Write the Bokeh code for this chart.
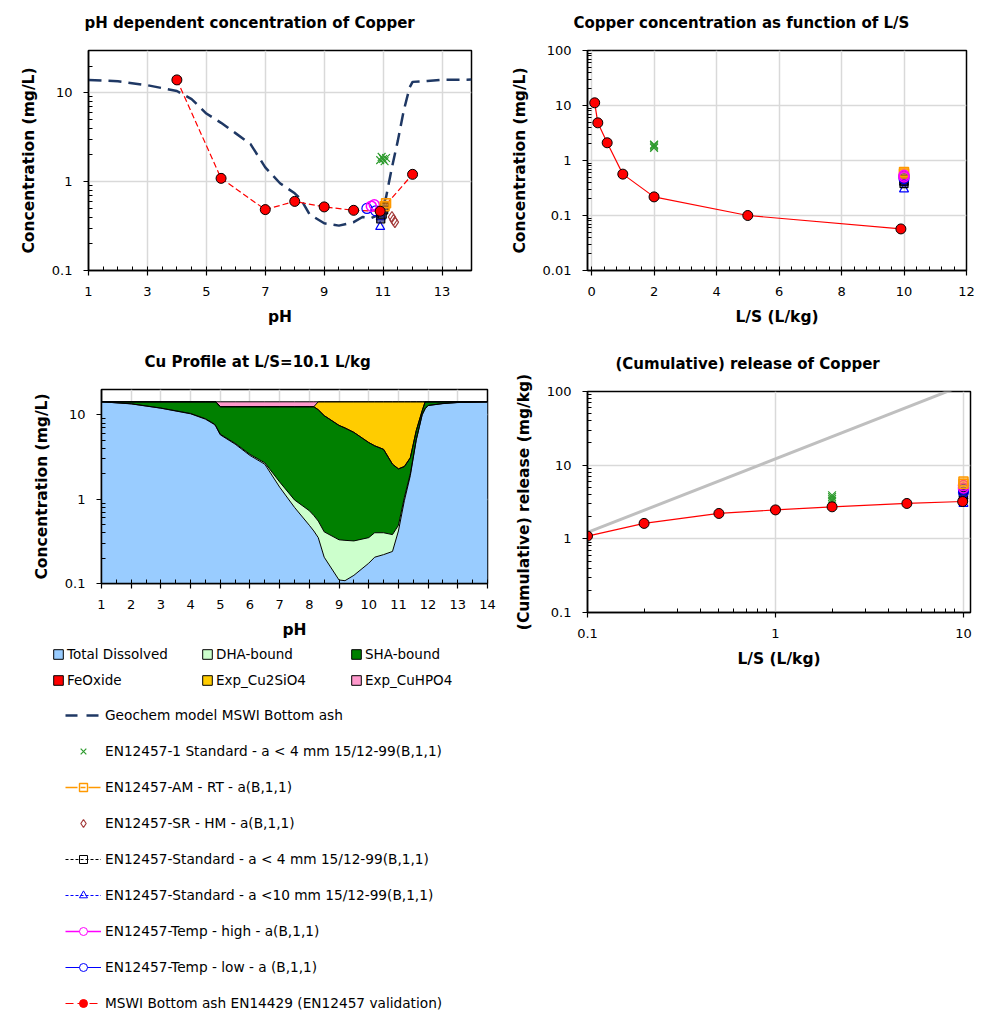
import numpy as np
from bokeh.plotting import figure
from bokeh.models import FixedTicker, CustomJSTickFormatter, Legend, LegendItem, Range1d
from bokeh.embed import file_html
from bokeh.resources import INLINE

FONT = "DejaVu Sans"

# ---------------- data ----------------
# Geochemical model (pH dependence)
geochem_ph = [1, 2, 3, 4, 4.5, 4.8, 5, 5.5, 6, 6.5, 7, 7.5, 8, 8.2, 8.5, 9, 9.5, 10,
              10.3, 10.6, 10.9, 11.1, 11.3, 11.5, 11.7, 11.9, 12, 12.5, 13, 14]
geochem_conc = [14.0, 13.5, 12.2, 10.5, 8.5, 6.8, 5.85, 4.6, 3.5, 2.65, 1.45, 0.96, 0.74, 0.64,
                0.43, 0.34, 0.32, 0.35, 0.40, 0.39, 0.43, 0.67, 1.45, 2.9, 6.3, 11.5, 13.3, 13.6, 14.0, 14.1]

# MSWI bottom ash EN14429 (EN12457 validation)
mswi_ph = [4, 5.5, 7, 8, 9, 10, 10.9, 12]
mswi_ph_conc = [14.0, 1.09, 0.485, 0.60, 0.52, 0.476, 0.465, 1.21]
mswi_ls = [0.1, 0.2, 0.5, 1, 2, 5, 9.9]
mswi_ls_conc = [11.2, 4.84, 2.1, 0.565, 0.218, 0.10, 0.057]
mswi_cum = [1.09, 1.62, 2.21, 2.47, 2.72, 3.02, 3.21]

# EN12457-1 Standard - a < 4 mm
std1_ph = [10.9, 10.95, 11.0, 11.05, 11.1]
std1_ph_conc = [1.75, 1.9, 1.8, 1.7, 1.85]
std1_ls = [2, 2, 2, 2]
std1_ls_conc = [1.7, 1.8, 1.9, 1.95]
std1_cum = [3.3, 3.5, 3.7, 3.9]

# EN12457-AM - RT
amrt_ph = [11.05, 11.1]
amrt_ph_conc = [0.53, 0.57]
amrt_ls = [10, 10]
amrt_ls_conc = [0.58, 0.62]
amrt_cum = [5.6, 6.0]

# EN12457-SR - HM
srhm_ph = [11.3, 11.35, 11.4]
srhm_ph_conc = [0.40, 0.37, 0.35]

# EN12457-Standard - a < 4 mm
std4_ph = [10.92, 10.97, 11.02, 11.05]
std4_ph_conc = [0.38, 0.43, 0.48, 0.52]
std4_ls = [10, 10, 10]
std4_ls_conc = [0.38, 0.42, 0.46]
std4_cum = [3.6, 3.9, 4.2]

# EN12457-Standard - a < 10 mm
std10_ph = [10.9, 10.92]
std10_ph_conc = [0.31, 0.40]
std10_ls = [10, 10]
std10_ls_conc = [0.30, 0.40]
std10_cum = [3.0, 3.8]

# EN12457-Temp - high
thigh_ph = [10.6, 10.7]
thigh_ph_conc = [0.53, 0.55]
thigh_ls = [10, 10]
thigh_ls_conc = [0.50, 0.54]
thigh_cum = [4.9, 5.3]

# EN12457-Temp - low
tlow_ph = [10.45, 10.75]
tlow_ph_conc = [0.50, 0.47]
tlow_ls = [10, 10]
tlow_ls_conc = [0.47, 0.52]
tlow_cum = [4.3, 4.7]

# Maximum (availability) line in cumulative release
maxline_ls = [0.1, 10]
maxline_rel = [1.22, 122]

# Cu profile at L/S=10.1 (species, mg/L)
prof_ph = [1, 2, 3, 4, 4.5, 4.8, 4.85, 5, 5.5, 6, 6.5, 7, 7.5, 8, 8.15, 8.3, 8.5, 9, 9.2, 9.5,
           10, 10.2, 10.5, 10.8, 11, 11.2, 11.4, 11.6, 11.8, 11.9, 12, 12.5, 13, 14]
prof_dissolved = [14.3, 13.5, 12.0, 10.3, 8.9, 7.7, 7.3, 5.8, 4.5, 3.3, 2.6, 1.39, 0.80, 0.49, 0.42,
                  0.35, 0.205, 0.11, 0.108, 0.125, 0.174, 0.205, 0.22, 0.24, 0.42, 0.96, 1.9, 5.0,
                  10.0, 11.8, 12.9, 13.6, 14.0, 14.3]
prof_dha = [0, 0.05, 0.05, 0.1, 0.1, 0.1, 0.1, 0.1, 0.1, 0.1, 0.1, 0.21, 0.18, 0.24, 0.22, 0.20,
            0.205, 0.22, 0.217, 0.195, 0.176, 0.195, 0.18, 0.14, 0.07, 0.09, 0.1, 0.1, 0.1, 0.1,
            0.05, 0.05, 0.05, 0]
prof_sha = [0, 0.75, 2.25, 3.9, 5.3, 6.5, 6.9, 6.6, 7.9, 9.1, 9.8, 10.9, 11.52, 11.77, 11.86, 10.95,
            9.39, 7.17, 6.675, 5.88, 4.35, 3.9, 3.5, 2.22, 1.8, 1.39, 1.1, 1.4, 1.1, 2.4, 1.35, 0.65,
            0.25, 0]
prof_feox = [0] * 34
prof_cu2sio4 = [0, 0, 0, 0, 0, 0, 0, 0, 0, 0, 0, 0, 0, 0, 0, 2.8, 4.5, 6.8, 7.3, 8.1, 9.6, 10.0,
                10.4, 11.7, 12.01, 11.86, 11.2, 7.8, 3.1, 0, 0, 0, 0, 0]
prof_cuhpo4 = [0, 0, 0, 0, 0, 0, 0, 1.8, 1.8, 1.8, 1.8, 1.8, 1.8, 1.8, 1.8, 0, 0, 0, 0, 0, 0, 0,
               0, 0, 0, 0, 0, 0, 0, 0, 0, 0, 0, 0]

# ---------------- styles ----------------
C_GEO = "#1f3864"
C_GREEN = "#2e9b2e"
C_ORANGE = "#ff9900"
C_BROWN = "#a33a3a"
C_BLUE = "#0000ff"
C_MAG = "#ff00ff"

fmt = CustomJSTickFormatter(code="return String(Number(tick.toPrecision(6)));")


def log_minor(e0, e1):
    return [m * 10.0 ** e for e in range(e0, e1) for m in range(2, 10)]


def place(left, top):
    return {"position": "absolute", "left": f"{left}px", "top": f"{top}px"}


def make_fig(pos, width, height, xr, yr, xtype, ytype, bl, br, bt, bb, title, toff, xlabel, ylabel,
             xticks, xminor, yticks, yminor):
    p = figure(width=width, height=height, x_range=Range1d(*xr), y_range=Range1d(*yr),
               x_axis_type=xtype, y_axis_type=ytype, output_backend="svg",
               toolbar_location=None, min_border_left=bl, min_border_right=br,
               min_border_top=bt, min_border_bottom=bb, title=title, styles=place(*pos))
    p.title.align = "left"
    p.title.vertical_align = "top"
    p.title.offset = toff
    p.title.text_font = FONT
    p.title.text_font_size = "15px"
    p.title.text_font_style = "bold"
    p.title.text_color = "black"
    p.title.standoff = 34
    p.xaxis.axis_label = xlabel
    p.yaxis.axis_label = ylabel
    xt = FixedTicker(ticks=xticks, minor_ticks=xminor)
    yt = FixedTicker(ticks=yticks, minor_ticks=yminor)
    p.xaxis.ticker = xt
    p.xgrid.ticker = xt
    p.yaxis.ticker = yt
    p.ygrid.ticker = yt
    for ax in p.axis:
        ax.formatter = fmt
        ax.axis_line_color = "black"
        ax.axis_line_width = 1.5
        ax.major_tick_line_color = "black"
        ax.major_tick_line_width = 1.2
        ax.major_tick_in = 0
        ax.major_tick_out = 5
        ax.minor_tick_line_color = "black"
        ax.minor_tick_line_width = 1
        ax.minor_tick_in = 4
        ax.minor_tick_out = 0
        ax.major_label_text_font = FONT
        ax.major_label_text_font_size = "13px"
        ax.major_label_text_color = "black"
        ax.axis_label_text_font = FONT
        ax.axis_label_text_font_size = "15.5px"
        ax.axis_label_text_font_style = "bold"
        ax.axis_label_text_color = "black"
    p.xaxis.major_label_standoff = 11
    p.xaxis.axis_label_standoff = 9
    p.yaxis.major_label_standoff = 11
    p.yaxis.axis_label_standoff = 11
    p.outline_line_color = "black"
    p.outline_line_width = 1.5
    p.grid.grid_line_color = "#d9d9d9"
    p.grid.grid_line_width = 1.5
    p.background_fill_color = "white"
    p.border_fill_color = "white"
    return p


def add_series(p, xs, ys, kind):
    if kind == "std1":
        p.scatter(xs, ys, marker="x", size=11, line_color=C_GREEN, line_width=1.2)
    elif kind == "amrt":
        p.scatter(xs, ys, marker="square", size=9, line_color=C_ORANGE, fill_color=C_ORANGE,
                  fill_alpha=0.35, line_width=1.5)
    elif kind == "srhm":
        p.scatter(xs, ys, marker="diamond", size=11, line_color=C_BROWN, fill_color=None, line_width=1.2)
    elif kind == "std4":
        p.scatter(xs, ys, marker="square", size=8, line_color="black", fill_color="#1a1a66",
                  fill_alpha=0.6, line_width=1.2)
    elif kind == "std10":
        p.scatter(xs, ys, marker="triangle", size=9, line_color=C_BLUE, fill_color=None, line_width=1.2)
    elif kind == "thigh":
        p.scatter(xs, ys, marker="circle", size=10, line_color=C_MAG, fill_color=None, line_width=1.5)
    elif kind == "tlow":
        p.scatter(xs, ys, marker="circle", size=10, line_color=C_BLUE, fill_color=None, line_width=1.2)


# ---------------- figure 1: pH dependence ----------------
p1 = make_fig((8, -8), 495, 341, (1, 14), (0.1, 30), "linear", "log", 80, 32, 58, 63,
              "pH dependent concentration of Copper", -4, "pH", "Concentration (mg/L)",
              list(range(1, 15, 2)), list(np.arange(1, 14.01, 0.5)),
              [0.1, 1, 10], log_minor(-1, 2))
p1.line(geochem_ph, geochem_conc, line_color=C_GEO, line_width=2.5, line_dash="13 7")
p1.line(mswi_ph, mswi_ph_conc, line_color="red", line_width=1.2, line_dash="6 3")
add_series(p1, std1_ph, std1_ph_conc, "std1")
add_series(p1, tlow_ph, tlow_ph_conc, "tlow")
add_series(p1, thigh_ph, thigh_ph_conc, "thigh")
add_series(p1, std10_ph, std10_ph_conc, "std10")
add_series(p1, std4_ph, std4_ph_conc, "std4")
add_series(p1, amrt_ph, amrt_ph_conc, "amrt")
add_series(p1, srhm_ph, srhm_ph_conc, "srhm")
p1.scatter(mswi_ph, mswi_ph_conc, marker="circle", size=10, fill_color="red", line_color="black", line_width=1)

# ---------------- figure 2: concentration vs L/S ----------------
p2 = make_fig((503, -8), 483, 341, (-0.13, 12), (0.01, 100), "linear", "log", 84, 20, 58, 63,
              "Copper concentration as function of L/S", -14, "L/S (L/kg)", "Concentration (mg/L)",
              list(range(0, 13, 2)), list(np.arange(0, 12.01, 0.4)),
              [0.01, 0.1, 1, 10, 100], log_minor(-2, 2))
p2.line(mswi_ls, mswi_ls_conc, line_color="red", line_width=1.2)
add_series(p2, std1_ls, std1_ls_conc, "std1")
add_series(p2, std10_ls, std10_ls_conc, "std10")
add_series(p2, std4_ls, std4_ls_conc, "std4")
add_series(p2, tlow_ls, tlow_ls_conc, "tlow")
add_series(p2, amrt_ls, amrt_ls_conc, "amrt")
add_series(p2, thigh_ls, thigh_ls_conc, "thigh")
p2.scatter(mswi_ls, mswi_ls_conc, marker="circle", size=10, fill_color="red", line_color="black", line_width=1)

# ---------------- figure 3: Cu profile ----------------
p3 = make_fig((8, 325), 495, 318, (1, 14), (0.1, 20), "linear", "log", 93, 16, 64, 60,
              "Cu Profile at L/S=10.1 L/kg", 43, "pH", "Concentration (mg/L)",
              list(range(1, 15)), list(np.arange(1, 14.01, 0.5)),
              [0.1, 1, 10], log_minor(-1, 2))
layers = [
    ("Total Dissolved", prof_dissolved, "#99ccff"),
    ("DHA-bound", prof_dha, "#ccffcc"),
    ("SHA-bound", prof_sha, "#008000"),
    ("FeOxide", prof_feox, "#ff0000"),
    ("Exp_Cu2SiO4", prof_cu2sio4, "#ffcc00"),
    ("Exp_CuHPO4", prof_cuhpo4, "#ff99cc"),
]
cum = np.zeros(len(prof_ph))
tops = []
for name, vals, color in layers:
    top = cum + np.array(vals, dtype=float)
    p3.varea(x=prof_ph, y1=np.maximum(cum, 1e-3), y2=np.maximum(top, 1e-3), fill_color=color)
    tops.append(top)
    cum = top
for top in tops:
    p3.line(prof_ph, np.maximum(top, 1e-3), line_color="black", line_width=1)

# ---------------- figure 4: cumulative release ----------------
p4 = make_fig((503, 325), 483, 347, (0.1, 10.9), (0.1, 100), "log", "log", 84, 16, 66, 60,
              "(Cumulative) release of Copper", 28, "L/S (L/kg)", "(Cumulative) release (mg/kg)",
              [0.1, 1, 10], log_minor(-1, 1),
              [0.1, 1, 10, 100], log_minor(-1, 2))
p4.line(maxline_ls, maxline_rel, line_color="#bfbfbf", line_width=3)
p4.line(mswi_ls, mswi_cum, line_color="red", line_width=1.2)
add_series(p4, std1_ls, std1_cum, "std1")
add_series(p4, std10_ls, std10_cum, "std10")
add_series(p4, std4_ls, std4_cum, "std4")
add_series(p4, tlow_ls, tlow_cum, "tlow")
add_series(p4, thigh_ls, thigh_cum, "thigh")
add_series(p4, amrt_ls, amrt_cum, "amrt")
p4.scatter(mswi_ls, mswi_cum, marker="circle", size=10, fill_color="red", line_color="black", line_width=1)

# ---------------- legend panel ----------------
pl = figure(width=495, height=373, x_range=Range1d(0, 1), y_range=Range1d(0, 1),
            output_backend="svg", toolbar_location=None, x_axis_location=None,
            y_axis_location=None, min_border=0, styles=place(8, 643))
pl.outline_line_color = None
pl.grid.visible = False
pl.background_fill_color = "white"
pl.border_fill_color = "white"

# legend-only renderers sit outside the visible range of this panel
OFF_X = [-2, -1]
OFF_Y = [-1, -1]
area_r = {}
for name, vals, color in layers:
    area_r[name] = pl.quad(left=[-2], right=[-1], top=[-1], bottom=[-2], fill_color=color,
                           line_color="black", line_width=1)
area_order = ["Total Dissolved", "FeOxide", "DHA-bound", "Exp_Cu2SiO4", "SHA-bound", "Exp_CuHPO4"]
area_items = [LegendItem(label=n, renderers=[area_r[n]]) for n in area_order]
area_leg = Legend(items=area_items, location=(44, 326), ncols=3, glyph_width=12, glyph_height=12,
                  label_height=20, label_width=128, label_standoff=3, spacing=6, padding=0,
                  border_line_color=None, background_fill_alpha=0,
                  label_text_font=FONT, label_text_font_size="13.5px", label_text_color="black")
pl.add_layout(area_leg, "center")


def lline(color, dash, width=1.2):
    return pl.line(x=OFF_X, y=OFF_Y, line_color=color, line_dash=dash, line_width=width)


def lmark(marker, **kw):
    return pl.scatter(x=OFF_X[:1], y=OFF_Y[:1], marker=marker, **kw)


line_items = [
    LegendItem(label="Geochem model MSWI Bottom ash", renderers=[lline(C_GEO, "12 9", 2.5)]),
    LegendItem(label="EN12457-1 Standard - a < 4 mm 15/12-99(B,1,1)",
               renderers=[lmark("x", line_color=C_GREEN, line_width=1.2)]),
    LegendItem(label="EN12457-AM - RT - a(B,1,1)",
               renderers=[lline(C_ORANGE, "12 3 5 3", 1.6),
                          lmark("square", line_color=C_ORANGE, fill_color=None, line_width=1.4)]),
    LegendItem(label="EN12457-SR - HM - a(B,1,1)",
               renderers=[lmark("diamond", line_color=C_BROWN, fill_color=None, line_width=1.2)]),
    LegendItem(label="EN12457-Standard - a < 4 mm 15/12-99(B,1,1)",
               renderers=[lline("black", "3 2", 1), lmark("square", line_color="black", fill_color=None)]),
    LegendItem(label="EN12457-Standard - a <10 mm 15/12-99(B,1,1)",
               renderers=[lline(C_BLUE, "3 2", 1), lmark("triangle", line_color=C_BLUE, fill_color=None)]),
    LegendItem(label="EN12457-Temp - high - a(B,1,1)",
               renderers=[lline(C_MAG, "solid", 1.5), lmark("circle", line_color=C_MAG, fill_color="white")]),
    LegendItem(label="EN12457-Temp - low - a (B,1,1)",
               renderers=[lline(C_BLUE, "solid", 1.2), lmark("circle", line_color=C_BLUE, fill_color="white")]),
    LegendItem(label="MSWI Bottom ash EN14429 (EN12457 validation)",
               renderers=[lline("red", "8 4", 1.2), lmark("circle", line_color="red", fill_color="red")]),
]
line_leg = Legend(items=line_items, location=(57, 3), glyph_width=36, glyph_height=20,
                  label_height=20, label_standoff=4, spacing=16, padding=0,
                  border_line_color=None, background_fill_alpha=0,
                  label_text_font=FONT, label_text_font_size="13.7px", label_text_color="black")
pl.add_layout(line_leg, "center")

roots = [p1, p2, p3, p4, pl]
open("out.html", "w").write(file_html(roots, INLINE, title="Copper leaching"))
